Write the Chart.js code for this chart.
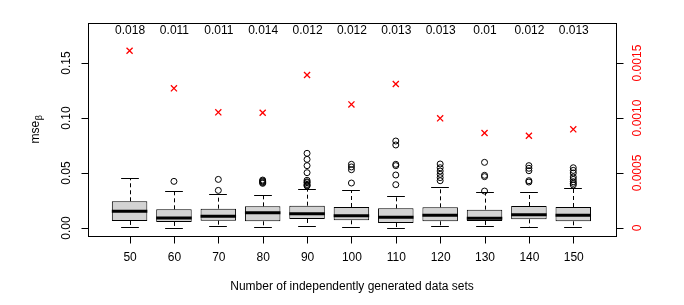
<!DOCTYPE html>
<html>
<head>
<meta charset="utf-8">
<script src="https://cdn.jsdelivr.net/npm/chart.js@4"></script>
<style>
html,body{margin:0;padding:0;background:#fff;}
#wrap{width:684px;height:305px;}
</style>
</head>
<body>
<div id="wrap"><canvas id="c" width="684" height="305"></canvas></div>
<script>
// ---- data ----
const categories = ['50','60','70','80','90','100','110','120','130','140','150'];
const whiskerLow = [0.0012,0.0003,0.0015,0.0009,0.0021,0.0009,0.0003,0.0018,0.0015,0.0012,0.0006];
const q1        = [0.0064,0.0055,0.0067,0.0061,0.0082,0.0070,0.0045,0.0061,0.0064,0.0079,0.0061];
const medians   = [0.0152,0.0091,0.0106,0.0139,0.0130,0.0112,0.0097,0.0115,0.0088,0.0121,0.0115];
const q3        = [0.0243,0.0170,0.0176,0.0197,0.0203,0.0191,0.0179,0.0188,0.0167,0.0200,0.0191];
const whiskerHigh = [0.0452,0.0339,0.0309,0.0300,0.0357,0.0345,0.0294,0.0370,0.0324,0.0324,0.0367];
const outliers = [
  [],
  [0.0424],
  [0.0442,0.0342],
  [0.0436,0.0428,0.0421,0.0413,0.0406],
  [0.0679,0.0624,0.0567,0.0503,0.0434,0.0420,0.0412,0.0397,0.0388,0.0382],
  [0.0579,0.0555,0.0530,0.0409],
  [0.0791,0.0755,0.0579,0.0567,0.0482,0.0394],
  [0.0582,0.0548,0.0518,0.0488,0.0458,0.0430],
  [0.0597,0.0479,0.0467,0.0336],
  [0.0567,0.0543,0.0521,0.0430,0.0418],
  [0.0548,0.0524,0.0500,0.0464,0.0442,0.0421,0.0406,0.0391]
];
const redValues = [0.001612,0.00127,0.001052,0.001048,0.001391,0.001124,0.001309,0.000997,0.000864,0.000839,0.000897];
const topLabels = ['0.018','0.011','0.011','0.014','0.012','0.012','0.013','0.013','0.01','0.012','0.013'];
const topLabelY = 0.179;
const leftTicks = [0, 0.05, 0.10, 0.15];
const leftTickLabels = ['0.00','0.05','0.10','0.15'];
const rightTicks = [0, 0.0005, 0.0010, 0.0015];
const rightTickLabels = ['0','0.0005','0.0010','0.0015'];
const xTitle = 'Number of independently generated data sets';

const FONT = '12px "Liberation Sans", Arial, Helvetica, sans-serif';

const boxData = categories.map((c,i)=>({x:i+1, y:[q1[i], q3[i]]}));
const outlierData = [];
outliers.forEach((arr,i)=>arr.forEach(v=>outlierData.push({x:i+1, y:v})));
const redData = redValues.map((v,i)=>({x:i+1, y:v}));

const rPlot = {
  id:'rplot',
  afterDatasetsDraw(chart){
    const ctx = chart.ctx;
    const xs = chart.scales.x, ys = chart.scales.y;
    const meta = chart.getDatasetMeta(0);
    ctx.save();
    ctx.strokeStyle = '#000';
    categories.forEach((c,i)=>{
      const el = meta.data[i];
      const cx = Math.round(xs.getPixelForValue(i+1));
      const hw = el.width/2;
      const pLo = ys.getPixelForValue(whiskerLow[i]);
      const pHi = ys.getPixelForValue(whiskerHigh[i]);
      const pQ1 = ys.getPixelForValue(q1[i]);
      const pQ3 = ys.getPixelForValue(q3[i]);
      const pMed = ys.getPixelForValue(medians[i]);
      // dashed whiskers
      ctx.lineWidth = 1;
      ctx.setLineDash([4,3]);
      ctx.beginPath();
      ctx.moveTo(cx+0.5, pQ3); ctx.lineTo(cx+0.5, pHi);
      ctx.moveTo(cx+0.5, pQ1); ctx.lineTo(cx+0.5, pLo);
      ctx.stroke();
      ctx.setLineDash([]);
      // staples
      ctx.beginPath();
      ctx.moveTo(cx-hw/2, Math.round(pHi)+0.5); ctx.lineTo(cx+hw/2, Math.round(pHi)+0.5);
      ctx.moveTo(cx-hw/2, Math.round(pLo)+0.5); ctx.lineTo(cx+hw/2, Math.round(pLo)+0.5);
      ctx.stroke();
      // median
      ctx.lineWidth = 3;
      ctx.beginPath();
      ctx.moveTo(el.x-hw, pMed); ctx.lineTo(el.x+hw, pMed);
      ctx.stroke();
    });
    ctx.restore();
  },
  afterDraw(chart){
    const ctx = chart.ctx;
    const a = chart.chartArea;
    const xs = chart.scales.x, ys = chart.scales.y, y2 = chart.scales.y2;
    ctx.save();
    ctx.strokeStyle = '#000';
    ctx.lineWidth = 1;
    // frame
    ctx.strokeRect(Math.round(a.left)+0.5, Math.round(a.top)+0.5, Math.round(a.right-a.left), Math.round(a.bottom-a.top));
    ctx.font = FONT;
    ctx.fillStyle = '#000';
    // bottom axis
    ctx.beginPath();
    const by = Math.round(a.bottom)+0.5;
    categories.forEach((c,i)=>{
      const px = Math.round(xs.getPixelForValue(i+1))+0.5;
      ctx.moveTo(px, by); ctx.lineTo(px, by+7);
    });
    ctx.stroke();
    ctx.textAlign='center'; ctx.textBaseline='middle';
    categories.forEach((c,i)=>{
      ctx.fillText(c, xs.getPixelForValue(i+1)+0.5, 258);
    });
    // top labels
    topLabels.forEach((t,i)=>{
      ctx.fillText(t, xs.getPixelForValue(i+1)+0.5, ys.getPixelForValue(topLabelY));
    });
    // left axis
    const lx = Math.round(a.left)+0.5;
    ctx.beginPath();
    leftTicks.forEach(v=>{
      const py = Math.round(ys.getPixelForValue(v))+0.5;
      ctx.moveTo(lx, py); ctx.lineTo(lx-7, py);
    });
    ctx.stroke();
    leftTicks.forEach((v,i)=>{
      ctx.save();
      ctx.translate(67, ys.getPixelForValue(v));
      ctx.rotate(-Math.PI/2);
      ctx.fillText(leftTickLabels[i], 0, 0);
      ctx.restore();
    });
    // right axis
    const rx = Math.round(a.right)+0.5;
    ctx.beginPath();
    rightTicks.forEach(v=>{
      const py = Math.round(y2.getPixelForValue(v))+0.5;
      ctx.moveTo(rx, py); ctx.lineTo(rx+7, py);
    });
    ctx.stroke();
    ctx.fillStyle = '#ff0000';
    rightTicks.forEach((v,i)=>{
      ctx.save();
      ctx.translate(638, y2.getPixelForValue(v));
      ctx.rotate(-Math.PI/2);
      ctx.fillText(rightTickLabels[i], 0, 0);
      ctx.restore();
    });
    // x title
    ctx.fillStyle = '#000';
    ctx.fillText(xTitle, (a.left+a.right)/2, 287);
    // y title: mse with subscript beta
    ctx.save();
    ctx.translate(35, (a.top+a.bottom)/2);
    ctx.rotate(-Math.PI/2);
    ctx.textAlign='left'; ctx.textBaseline='alphabetic';
    ctx.font = FONT;
    const w1 = ctx.measureText('mse').width;
    ctx.font = '9px "Liberation Sans", Arial, sans-serif';
    const w2 = ctx.measureText('β').width;
    const start = -(w1+w2)/2;
    ctx.font = FONT;
    ctx.fillText('mse', start, 4);
    ctx.font = '9px "Liberation Sans", Arial, sans-serif';
    ctx.fillText('β', start+w1+0.5, 7);
    ctx.restore();
    ctx.restore();
  }
};

new Chart(document.getElementById('c'), {
  type:'bar',
  data:{
    datasets:[
      {type:'bar', data:boxData, backgroundColor:'#d3d3d3', borderColor:'#000', borderWidth:1, borderSkipped:false,
       categoryPercentage:1.0, barPercentage:0.8, yAxisID:'y', order:3},
      {type:'scatter', data:outlierData, pointStyle:'circle', pointRadius:3, pointBorderWidth:1,
       pointBorderColor:'#000', pointBackgroundColor:'rgba(0,0,0,0)', yAxisID:'y', order:2},
      {type:'scatter', data:redData, pointStyle:'crossRot', pointRadius:4.3, pointBorderWidth:1.3,
       pointBorderColor:'#ff0000', pointBackgroundColor:'#ff0000', yAxisID:'y2', order:1}
    ]
  },
  options:{
    responsive:false,
    animation:false,
    events:[],
    layout:{padding:{left:88, top:23, right:68, bottom:69}},
    plugins:{legend:{display:false}, tooltip:{enabled:false}},
    scales:{
      x:{type:'linear', display:false, min:0.063, max:11.963, offset:false,
         afterBuildTicks:(s)=>{ s.ticks = categories.map((c,i)=>({value:i+1})); }},
      y:{type:'linear', display:false, min:-0.00727, max:0.1864},
      y2:{type:'linear', display:false, position:'right', min:-0.0000727, max:0.001864}
    }
  },
  plugins:[rPlot]
});
</script>
</body>
</html>
